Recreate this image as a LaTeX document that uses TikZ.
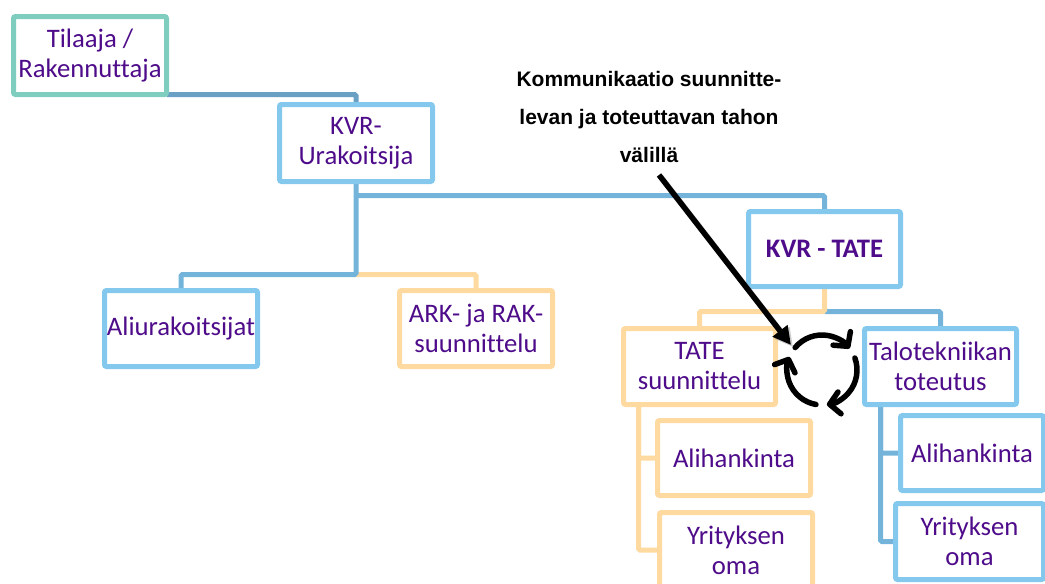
\documentclass[tikz,border=0pt]{standalone}
\usepackage{fontspec}
\setmainfont{Carlito}[Ligatures=CommonOff]
\newfontfamily\notefont{Liberation Sans}
\usetikzlibrary{arrows.meta,backgrounds}

\definecolor{txtpurple}{RGB}{78,12,138}
\definecolor{boxblue}{RGB}{133,200,238}
\definecolor{boxteal}{RGB}{126,205,190}
\definecolor{boxpeach}{RGB}{255,218,160}
\definecolor{lineblue}{RGB}{116,180,218}
\definecolor{linedark}{RGB}{106,160,196}

\begin{document}
\begin{tikzpicture}[x=1pt,y=1pt,
  box/.style={draw, line width=5pt, fill=white, rounded corners=2pt,
    inner sep=0pt, outer sep=0pt, align=center, text=txtpurple,
    font=\fontsize{26.7}{30}\selectfont},
  wh/.style 2 args={minimum width=#1pt, minimum height=#2pt},
  bluebox/.style={box, draw=boxblue},
  tealbox/.style={box, draw=boxteal},
  peachbox/.style={box, draw=boxpeach},
  conn/.style={line width=5pt, rounded corners=1.5pt},
  bluelink/.style={conn, draw=lineblue},
  darklink/.style={conn, draw=linedark},
  peachlink/.style={conn, draw=boxpeach},
  cyclearc/.style={line width=5.5pt, line cap=round,
    -{Straight Barb[length=10pt,width=22pt,round]}},
  pointer/.style={line width=5.5pt, -{Triangle[length=18pt,width=18pt]}},
]
\useasboundingbox (0,0) rectangle (1045,-584);
\clip (0,0) rectangle (1045,-584);

% organisation boxes
\node[tealbox, wh={153}{78}] (tilaaja) at (90,-55.5) {Tilaaja /\\Rakennuttaja};
\node[bluebox, wh={153}{77}] (kvr) at (356,-143) {KVR-\\Urakoitsija};
\node[bluebox, wh={152}{75}, font=\fontsize{26.7}{30}\selectfont\bfseries] (tate) at (824.5,-249) {KVR - TATE};
\node[bluebox, wh={153}{76}] (ali) at (181,-328.5) {Aliurakoitsijat};
\node[peachbox, wh={153}{76}] (ark) at (476,-328.5) {ARK- ja RAK-\\suunnittelu};
\node[peachbox, wh={152}{76}] (tates) at (699.5,-366.5) {TATE\\suunnittelu};
\node[bluebox, wh={152}{76}] (talo) at (940.5,-366.5) {Talotekniikan\\toteutus};
\node[peachbox, wh={153}{75}] (alihL) at (734,-458) {Alihankinta};
\node[peachbox, wh={153}{75}] (yritL) at (736,-550) {Yrityksen\\oma};
\node[bluebox, wh={143}{75}] (alihR) at (972,-453) {Alihankinta};
\node[bluebox, wh={148}{76}] (yritR) at (969.5,-541.5) {Yrityksen\\oma};

% tree connectors
\begin{scope}[on background layer]
  \coordinate (kvrjoin) at (356,-195.5);
  \coordinate (kvrfork) at (356,-274.5);
  \coordinate (tatefork) at (824.5,-311.5);
  \coordinate (tatestem) at (638.5,-404.5);
  \coordinate (talostem) at (880.5,-404.5);
  \draw[darklink] (tilaaja.south east) -| (kvr.north);
  \draw[bluelink] (kvrjoin) -| (tate.north);
  \draw[peachlink] (kvrfork) -| (ark.north);
  \draw[bluelink] (kvr.south) -- (kvrfork) -| (ali.north);
  \draw[bluelink] (tatefork) -| (talo.north);
  \draw[peachlink] (tate.south) -- (tatefork) -| (tates.north);
  \draw[peachlink] (tatestem) |- (alihL.west);
  \draw[peachlink] (tatestem) |- (yritL.west);
  \draw[bluelink] (talostem) |- (alihR.west);
  \draw[bluelink] (talostem) |- (yritR.west);
\end{scope}

% communication cycle
\coordinate (cyc) at (822,-370);
\draw[cyclearc] (cyc) ++(140:35) arc[start angle=140, end angle=38, radius=35];
\draw[cyclearc] (cyc) ++(20:35) arc[start angle=20, end angle=-82, radius=35];
\draw[cyclearc] (cyc) ++(-100:35) arc[start angle=-100, end angle=-202, radius=35];

% annotation with its pointer (soft shadow underneath)
\node[font=\notefont\bfseries\fontsize{21}{38}\selectfont, align=center, inner sep=0pt]
  (note) at (649,-116.5) {Kommunikaatio suunnitte-\\levan ja toteuttavan tahon\\välillä};
\coordinate (arrowtail) at (659,-175);
\coordinate (arrowtip) at (791,-345);
\draw[pointer, draw=black!45, fill=black!45, opacity=0.45, transform canvas={shift={(2pt,-2pt)}}] (arrowtail) -- (arrowtip);
\draw[pointer] (arrowtail) -- (arrowtip);
\end{tikzpicture}
\end{document}
